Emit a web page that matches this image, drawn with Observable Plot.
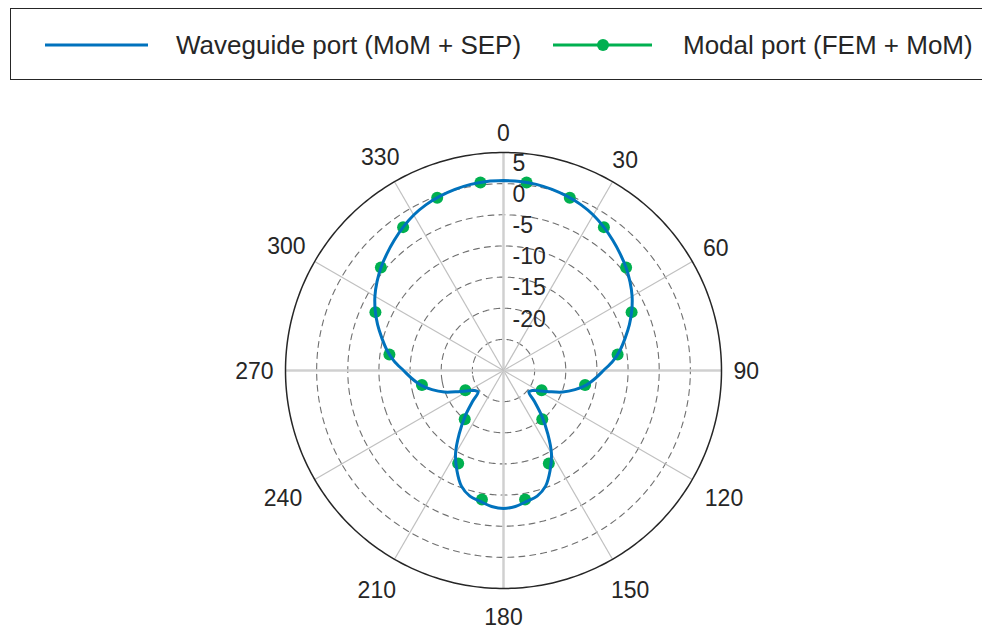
<!DOCTYPE html>
<html>
<head>
<meta charset="utf-8">
<script src="https://cdn.jsdelivr.net/npm/d3@7"></script>
<script src="https://cdn.jsdelivr.net/npm/@observablehq/plot@0.6"></script>
<style>
  html, body { margin: 0; padding: 0; background: #fff; }
  body { width: 982px; height: 631px; overflow: hidden; font-family: "Liberation Sans", Arial, sans-serif; color: #262626; }
  #legend { position: relative; width: 982px; height: 85px; }
  #legend .box { position: absolute; left: 10px; top: 8px; width: 1000px; height: 72px; border: 1px solid #262626; box-sizing: border-box; }
  #legend .lbl { position: absolute; top: 29px; font-size: 26px; line-height: 32px; white-space: nowrap; color: #262626; }
  #legend svg { position: absolute; left: 0; top: 0; }
  #chart svg { display: block; }
</style>
</head>
<body>
<div id="legend">
  <div class="box"></div>
  <svg width="982" height="85">
    <line x1="45" y1="45" x2="148" y2="45" stroke="#0072BD" stroke-width="3"/>
    <line x1="553" y1="45" x2="652" y2="45" stroke="#00B050" stroke-width="3"/>
    <circle cx="603" cy="45" r="6" fill="#00B050"/>
  </svg>
  <span class="lbl" id="l1" style="left:176px"></span>
  <span class="lbl" id="l2" style="left:683px"></span>
</div>
<div id="chart"></div>
<script>
// ---- data ----
const seriesNames = ["Waveguide port (MoM + SEP)", "Modal port (FEM + MoM)"];
const thetaTicks = [0, 30, 60, 90, 120, 150, 180, 210, 240, 270, 300, 330];
const rGrid = [-25, -20, -15, -10, -5, 0];
const rLabels = [5, 0, -5, -10, -15, -20];
const rMin = -30, rMax = 5;

// Waveguide port (MoM + SEP): angle (deg, clockwise from top) and gain (dB)
const waveAngles = [0,5,10,15,20,25,30,35,40,45,50,55,60,65,70,75,80,85,90,95,100,105,110,115,120,125,130,135,140,145,150,155,160,165,170,175,
  180,185,190,195,200,205,210,215,220,225,230,235,240,245,250,255,260,265,270,275,280,285,290,295,300,305,310,315,320,325,330,335,340,345,350,355,360];
const waveGain = [0.5,0.47,0.34,0.1,-0.22,-0.62,-1.18,-1.91,-2.71,-3.51,-4.31,-5.2,-6.16,-7.28,-8.49,-9.77,-10.98,-12.34,-13.95,-15.23,-16.51,-18.12,-19.89,-21.97,-23.5,-24.38,-24.7,-23.0,-20.4,-17.6,-14.6,-12.3,-10.25,-9.13,-8.65,-8.09,
  -7.85,-8.09,-8.65,-9.13,-10.25,-12.3,-14.6,-17.6,-20.4,-23.0,-24.7,-24.38,-23.5,-21.97,-19.89,-18.12,-16.51,-15.23,-13.95,-12.34,-10.98,-9.77,-8.49,-7.28,-6.16,-5.2,-4.31,-3.51,-2.71,-1.91,-1.18,-0.62,-0.22,0.1,0.34,0.47,0.5];

// Modal port (FEM + MoM): marker samples
const modalAngles = [7,21,35,50,65.5,82,100,117.5,141.5,154,170.5,189.5,206,218.5,242.5,260,278,294.5,310,325,339,353];
const modalGain = [0.4,-0.3,-1.9,-4.3,-7.4,-11.5,-16.7,-23.1,-20.0,-13.4,-9.0,-9.0,-13.4,-20.0,-23.1,-16.7,-11.5,-7.4,-4.3,-1.9,-0.3,0.4];

document.getElementById("l1").textContent = seriesNames[0];
document.getElementById("l2").textContent = seriesNames[1];

// ---- polar projection ----
const R = 218, cx = 503, cy = 285;
const DEG = Math.PI / 180;
const pxPerDb = R / (rMax - rMin);
const projection = d3.geoAzimuthalEquidistant()
  .rotate([0, -90])
  .scale(R / ((rMax - rMin) * DEG))
  .translate([cx, cy])
  .precision(0.1);
const lon = (t) => 180 - t;           // clockwise from top
const lat = (v) => 90 - (v - rMin);   // radius in dB

const wave = waveAngles.map((t, i) => ({t, v: waveGain[i]}));
const modal = modalAngles.map((t, i) => ({t, v: modalGain[i]}));

const labelFont = 23;
function labelPx(t) {
  const s = Math.abs(Math.sin(t * DEG)), c = Math.cos(t * DEG);
  const w = String(t).length * labelFont * 0.556;
  return 230 + s * w / 2 + Math.abs(c) * (c < 0 ? 16 : 8);
}
const circle = (v) => d3.geoCircle().center([0, 90]).radius(v - rMin).precision(1)();

const blue = "#0072BD", green = "#00B050";

const chart = Plot.plot({
  width: 982,
  height: 546,
  margin: 0,
  projection,
  style: {fontFamily: "'Liberation Sans', Arial, sans-serif", fontSize: labelFont + "px", background: "transparent", color: "#262626"},
  marks: [
    Plot.geo(rGrid, {geometry: circle, stroke: "#707070", strokeWidth: 1.1, strokeDasharray: "6,5", fill: "none"}),
    Plot.link(thetaTicks, {
      x1: lon, y1: 90, x2: lon, y2: lat(rMax), curve: "linear",
      stroke: (t) => (t % 90 === 0 ? "major" : "minor"),
      strokeWidth: (t) => (t % 90 === 0 ? 2.5 : 1.2)
    }),
    Plot.geo([rMax], {geometry: circle, stroke: "#262626", strokeWidth: 1.5, fill: "none"}),
    Plot.text(thetaTicks, {
      x: lon, y: (t) => lat(rMin + labelPx(t) / pxPerDb),
      text: (t) => String(t), fill: "#262626", fontSize: labelFont, dy: 1
    }),
    Plot.text(rLabels, {
      x: lon(0), y: (v) => lat(v), text: (v) => String(v),
      textAnchor: "start", dx: 9, dy: 11, fill: "#262626", fontSize: labelFont
    }),
    Plot.dot(modal, {x: (d) => lon(d.t), y: (d) => lat(d.v), r: 6, fill: green, stroke: "none"}),
    Plot.line(wave, {x: (d) => lon(d.t), y: (d) => lat(d.v), stroke: blue, strokeWidth: 3, curve: "catmull-rom"})
  ],
  color: {domain: ["major", "minor"], range: ["#d0d0d0", "#c0c0c0"]}
});
document.getElementById("chart").appendChild(chart);
</script>
</body>
</html>
